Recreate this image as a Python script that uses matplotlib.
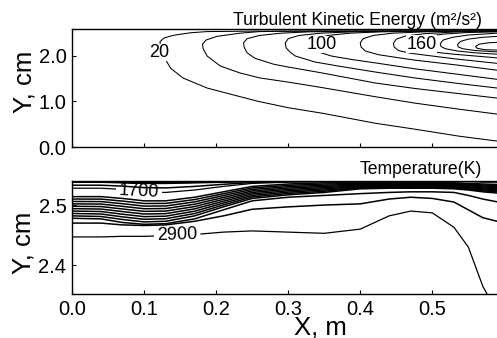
import numpy as np
import matplotlib
matplotlib.use('Agg')
import matplotlib.pyplot as plt

plt.rcParams['font.family'] = ['Liberation Sans', 'DejaVu Sans']

# ---- turbulent kinetic energy contours (m2/s2) ----
# each path runs from the upper branch (near the wall) round the tip to the lower branch
k20_x = [0.59, 0.40, 0.25, 0.1875, 0.165, 0.143, 0.135, 0.127, 0.122, 0.123, 0.126, 0.131, 0.137, 0.154, 0.1875, 0.219, 0.258, 0.30, 0.347, 0.421, 0.476, 0.536, 0.59]
k20_y = [2.537, 2.536, 2.535, 2.525, 2.50, 2.45, 2.42, 2.38, 2.30, 2.20, 2.05, 1.88, 1.72, 1.51, 1.29, 1.16, 1.00, 0.86, 0.74, 0.52, 0.39, 0.24, 0.13]
k40_x = [0.59, 0.32, 0.26, 0.233, 0.201, 0.186, 0.181, 0.182, 0.1875, 0.206, 0.233, 0.261, 0.30, 0.347, 0.421, 0.476, 0.536, 0.59]
k40_y = [2.536, 2.535, 2.525, 2.49, 2.42, 2.34, 2.25, 2.15, 1.99, 1.77, 1.62, 1.51, 1.42, 1.30, 1.10, 0.96, 0.83, 0.72]
k60_x = [0.59, 0.40, 0.33, 0.29, 0.26, 0.243, 0.238, 0.239, 0.243, 0.254, 0.28, 0.30, 0.347, 0.421, 0.476, 0.536, 0.59]
k60_y = [2.535, 2.533, 2.52, 2.49, 2.44, 2.37, 2.28, 2.18, 2.06, 1.94, 1.81, 1.75, 1.62, 1.40, 1.28, 1.17, 1.07]
k80_x = [0.59, 0.45, 0.39, 0.345, 0.315, 0.30, 0.296, 0.297, 0.303, 0.31, 0.337, 0.37, 0.421, 0.476, 0.536, 0.59]
k80_y = [2.535, 2.532, 2.52, 2.49, 2.44, 2.37, 2.28, 2.17, 2.07, 1.99, 1.86, 1.77, 1.64, 1.51, 1.39, 1.29]
k100_x = [0.59, 0.49, 0.43, 0.385, 0.355, 0.34, 0.335, 0.336, 0.342, 0.36, 0.39, 0.421, 0.476, 0.536, 0.59]
k100_y = [2.535, 2.532, 2.52, 2.49, 2.44, 2.37, 2.28, 2.18, 2.08, 1.99, 1.91, 1.84, 1.71, 1.59, 1.48]
k120_x = [0.59, 0.49, 0.445, 0.418, 0.404, 0.40, 0.401, 0.407, 0.425, 0.45, 0.476, 0.536, 0.59]
k120_y = [2.532, 2.52, 2.49, 2.44, 2.37, 2.28, 2.19, 2.10, 2.02, 1.96, 1.90, 1.79, 1.68]
k140_x = [0.59, 0.53, 0.49, 0.463, 0.45, 0.446, 0.447, 0.453, 0.47, 0.50, 0.536, 0.59]
k140_y = [2.528, 2.515, 2.48, 2.43, 2.36, 2.27, 2.19, 2.11, 2.05, 1.99, 1.92, 1.83]
k160_x = [0.59, 0.55, 0.515, 0.492, 0.479, 0.475, 0.476, 0.482, 0.50, 0.53, 0.56, 0.59]
k160_y = [2.52, 2.505, 2.47, 2.42, 2.35, 2.26, 2.19, 2.13, 2.08, 2.03, 1.99, 1.95]
k180_x = [0.59, 0.55, 0.528, 0.515, 0.511, 0.512, 0.518, 0.535, 0.56, 0.59]
k180_y = [2.49, 2.45, 2.40, 2.34, 2.26, 2.20, 2.15, 2.10, 2.06, 2.03]
k200_x = [0.59, 0.57, 0.55, 0.539, 0.535, 0.536, 0.542, 0.56, 0.59]
k200_y = [2.42, 2.40, 2.36, 2.31, 2.24, 2.19, 2.15, 2.11, 2.08]
k220_x = [0.59, 0.578, 0.565, 0.56, 0.562, 0.572, 0.59]
k220_y = [2.29, 2.28, 2.25, 2.20, 2.16, 2.13, 2.12]

tke_labels = ['20', '100', '160']
tke_label_x = [0.121, 0.347, 0.485]
tke_label_y = [2.07, 2.24, 2.25]

# ---- temperature field (K): y position of selected isotherms at x stations ----
t_x = [0.00, 0.04, 0.07, 0.10, 0.13, 0.17, 0.21, 0.25, 0.30, 0.35, 0.40, 0.44, 0.47, 0.50, 0.53, 0.55, 0.57, 0.60]
t1000_y = [2.546] * 18
t1600_y = [2.538, 2.538, 2.537, 2.536, 2.536, 2.537, 2.538, 2.539, 2.540, 2.540, 2.541, 2.541, 2.541, 2.541, 2.541, 2.541, 2.541, 2.541]
t1700_y = [2.528, 2.528, 2.526, 2.522, 2.521, 2.525, 2.531, 2.536, 2.538, 2.539, 2.539, 2.539, 2.539, 2.539, 2.539, 2.539, 2.538, 2.538]
t1800_y = [2.514, 2.514, 2.511, 2.507, 2.507, 2.513, 2.522, 2.531, 2.535, 2.537, 2.537, 2.537, 2.537, 2.537, 2.537, 2.536, 2.535, 2.534]
t2600_y = [2.482, 2.481, 2.476, 2.472, 2.473, 2.482, 2.497, 2.511, 2.517, 2.521, 2.527, 2.528, 2.528, 2.528, 2.527, 2.525, 2.522, 2.519]
t2700_y = [2.478, 2.477, 2.471, 2.468, 2.469, 2.477, 2.492, 2.507, 2.513, 2.516, 2.519, 2.521, 2.522, 2.522, 2.521, 2.516, 2.510, 2.503]
t2800_y = [2.470, 2.470, 2.467, 2.466, 2.467, 2.473, 2.482, 2.493, 2.497, 2.500, 2.502, 2.510, 2.513, 2.511, 2.505, 2.492, 2.479, 2.470]
t2900_y = [2.447, 2.447, 2.448, 2.448, 2.449, 2.451, 2.455, 2.457, 2.455, 2.453, 2.460, 2.482, 2.490, 2.487, 2.463, 2.430, 2.365, 2.300]
t3000_y = [2.250] * 18
t_rows = [1000, 1600, 1700, 1800, 2600, 2700, 2800, 2900, 3000]
t_label_levels = [1700, 2900]
t_levels = list(range(1050, 1700, 50)) + list(range(1800, 2601, 100)) + [2700, 2800]
t_label_pos = [(0.093, 2.523), (0.146, 2.449)]

fig = plt.figure(figsize=(4.97, 3.38), dpi=100)
ax1 = fig.add_axes([0.1449, 0.565, 0.87, 0.349])
ax2 = fig.add_axes([0.1449, 0.130, 0.87, 0.3345])

# top panel: TKE
paths = [(k20_x, k20_y), (k40_x, k40_y), (k60_x, k60_y), (k80_x, k80_y), (k100_x, k100_y),
         (k120_x, k120_y), (k140_x, k140_y), (k160_x, k160_y), (k180_x, k180_y),
         (k200_x, k200_y), (k220_x, k220_y)]
for px, py in paths:
    ax1.plot(px, py, color='black', lw=0.75)
for lab, lx, ly in zip(tke_labels, tke_label_x, tke_label_y):
    ax1.text(lx, ly, lab, fontsize=13, ha='center', va='center',
             bbox=dict(facecolor='white', edgecolor='none', pad=0.3), zorder=5)
ax1.set_xlim(0, 0.6)
ax1.set_ylim(0, 2.58)
ax1.set_yticks([0.0, 1.0, 2.0])
ax1.set_yticklabels(['0.0', '1.0', '2.0'])
ax1.set_xticks([0.0, 0.1, 0.2, 0.3, 0.4, 0.5])
ax1.tick_params(axis='x', labelbottom=False)

# bottom panel: temperature
TX = np.tile(np.array(t_x), (len(t_rows), 1))
TY = np.vstack([t1000_y, t1600_y, t1700_y, t1800_y, t2600_y, t2700_y, t2800_y, t2900_y, t3000_y])
TV = np.tile(np.array(t_rows, dtype=float)[:, None], (1, len(t_x)))
ax2.contour(TX, TY, TV, levels=t_levels, colors='black', linewidths=1.1)
cs_lab = ax2.contour(TX, TY, TV, levels=t_label_levels, colors='black', linewidths=0.9)
ax2.clabel(cs_lab, manual=t_label_pos, fmt='%d', fontsize=13, inline=True, inline_spacing=3)
ax2.set_xlim(0, 0.6)
ax2.set_ylim(2.352, 2.54)
ax2.set_yticks([2.4, 2.5])
ax2.set_xticks([0.0, 0.1, 0.2, 0.3, 0.4, 0.5])

for ax in (ax1, ax2):
    ax.tick_params(direction='in', length=3, width=0.8, labelsize=14.5, pad=4)
    ax.spines['right'].set_visible(False)
    for s in ('left', 'bottom', 'top'):
        ax.spines[s].set_linewidth(1.0)

fig.text(0.970, 0.927, 'Turbulent Kinetic Energy (m\u00b2/s\u00b2)', fontsize=12.7, ha='right', va='baseline')
fig.text(0.970, 0.484, 'Temperature(K)', fontsize=12.7, ha='right', va='baseline')
fig.text(0.050, 0.757, 'Y, cm', fontsize=18.5, rotation=90, ha='center', va='center')
fig.text(0.048, 0.283, 'Y, cm', fontsize=18.5, rotation=90, ha='center', va='center')
fig.text(0.644, 0.031, 'X, m', fontsize=18.5, ha='center', va='center')

fig.savefig('out.png', dpi=100)
